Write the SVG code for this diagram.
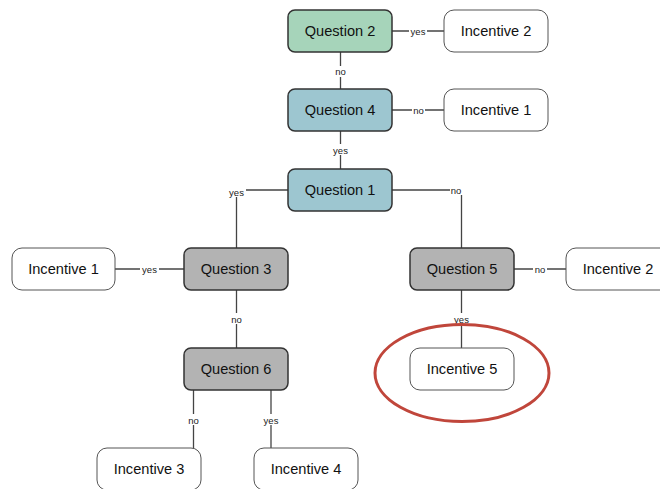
<svg xmlns="http://www.w3.org/2000/svg" width="660" height="489" viewBox="0 0 660 489">
<style>
.n rect{stroke:#4a4a4a;stroke-width:1.3}
.q rect{stroke:#333;stroke-width:1.5}
.inc rect{fill:#fff;stroke:#555;stroke-width:1}
.t{font-family:"Liberation Sans",Arial,sans-serif;font-size:14.6px;fill:#111;text-anchor:middle;dominant-baseline:central}
.e line,.e polyline{stroke:#444;stroke-width:1.3;fill:none}
.lb{font-family:"Liberation Sans",Arial,sans-serif;font-size:9.5px;fill:#222;text-anchor:middle;dominant-baseline:central}
.lbg{fill:#fff}
</style>
<rect width="660" height="489" fill="#fff"/>
<g id="connectors" class="e">
<line x1="392" y1="31" x2="444" y2="31"/>
<line x1="340.5" y1="52" x2="340.5" y2="89"/>
<line x1="392" y1="110" x2="444" y2="110"/>
<line x1="340.5" y1="131" x2="340.5" y2="169"/>
<polyline points="288,190 236.5,190 236.5,248"/>
<polyline points="392,190 461.5,190 461.5,248"/>
<line x1="115" y1="269" x2="184" y2="269"/>
<line x1="236.5" y1="290" x2="236.5" y2="348"/>
<line x1="514" y1="269" x2="566" y2="269"/>
<line x1="461.5" y1="290" x2="461.5" y2="348"/>
<line x1="193.5" y1="390" x2="193.5" y2="448"/>
<line x1="271" y1="390" x2="271" y2="448"/>
<g>
<rect class="lbg" x="409" y="25" width="18" height="11"/><text class="lb" x="418" y="31">yes</text>
<rect class="lbg" x="334" y="66" width="13" height="11"/><text class="lb" x="340.5" y="71">no</text>
<rect class="lbg" x="412" y="104" width="13" height="11"/><text class="lb" x="418.5" y="110">no</text>
<rect class="lbg" x="327" y="144" width="18" height="11"/><text class="lb" x="340.5" y="150">yes</text>
<rect class="lbg" x="227" y="186" width="19" height="11"/><text class="lb" x="236.5" y="192">yes</text>
<rect class="lbg" x="450" y="184" width="14" height="11"/><text class="lb" x="456" y="190">no</text>
<rect class="lbg" x="140" y="263" width="19" height="11"/><text class="lb" x="149.5" y="269">yes</text>
<rect class="lbg" x="230" y="313" width="13" height="11"/><text class="lb" x="236.5" y="319">no</text>
<rect class="lbg" x="533" y="263" width="14" height="11"/><text class="lb" x="540" y="269">no</text>
<rect class="lbg" x="452" y="313" width="19" height="11"/><text class="lb" x="461.5" y="319">yes</text>
<rect class="lbg" x="187" y="414" width="13" height="11"/><text class="lb" x="193.5" y="420">no</text>
<rect class="lbg" x="262" y="414" width="18" height="11"/><text class="lb" x="271" y="420">yes</text>
</g>
</g>
<g id="q2" class="n q"><rect x="288" y="10" width="104" height="42" rx="7" fill="#a6d4ba"/><text class="t" x="340" y="31">Question 2</text></g>
<g id="i2top" class="n inc"><rect x="444" y="10" width="104" height="42" rx="10"/><text class="t" x="496" y="31">Incentive 2</text></g>
<g id="q4" class="n q"><rect x="288" y="89" width="104" height="42" rx="7" fill="#9dc6d0"/><text class="t" x="340" y="110">Question 4</text></g>
<g id="i1top" class="n inc"><rect x="444" y="89" width="104" height="42" rx="10"/><text class="t" x="496" y="110">Incentive 1</text></g>
<g id="q1" class="n q"><rect x="288" y="169" width="104" height="42" rx="7" fill="#9dc6d0"/><text class="t" x="340" y="190">Question 1</text></g>
<g id="i1left" class="n inc"><rect x="12" y="248" width="103" height="42" rx="10"/><text class="t" x="63.5" y="269">Incentive 1</text></g>
<g id="q3" class="n q"><rect x="184" y="248" width="104" height="42" rx="7" fill="#b3b3b3"/><text class="t" x="236" y="269">Question 3</text></g>
<g id="q5" class="n q"><rect x="410" y="248" width="104" height="42" rx="7" fill="#b3b3b3"/><text class="t" x="462" y="269">Question 5</text></g>
<g id="i2right" class="n inc"><rect x="566" y="248" width="104" height="42" rx="10"/><text class="t" x="618" y="269">Incentive 2</text></g>
<g id="q6" class="n q"><rect x="184" y="348" width="104" height="42" rx="7" fill="#b3b3b3"/><text class="t" x="236" y="369">Question 6</text></g>
<g id="i5" class="n inc"><rect x="410" y="348" width="104" height="42" rx="10"/><text class="t" x="462" y="369">Incentive 5</text></g>
<g id="i3" class="n inc"><rect x="97" y="448" width="104" height="42" rx="10"/><text class="t" x="149" y="469">Incentive 3</text></g>
<g id="i4" class="n inc"><rect x="254" y="448" width="104" height="42" rx="10"/><text class="t" x="306" y="469">Incentive 4</text></g>
<ellipse id="highlight" cx="462" cy="373" rx="87" ry="48.5" fill="none" stroke="#c0463b" stroke-width="3"/>
</svg>
